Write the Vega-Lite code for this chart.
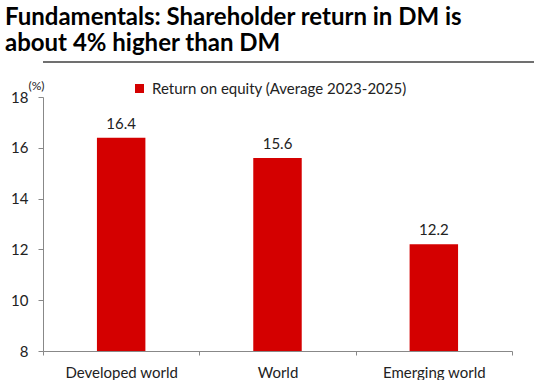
{
  "$schema": "https://vega.github.io/schema/vega-lite/v6.json",
  "background": "white",
  "padding": {"left": 0, "top": 6, "right": 0, "bottom": 0},
  "title": {
    "text": ["Fundamentals: Shareholder return in DM is", "about 4% higher than DM"],
    "anchor": "start",
    "font": "Lato",
    "fontSize": 24,
    "fontWeight": "bold",
    "color": "#000000",
    "lineHeight": 26,
    "offset": 5,
    "dx": 5
  },
  "spacing": 16,
  "resolve": {"legend": {"color": "independent"}, "scale": {"color": "independent"}},
  "config": {"view": {"stroke": null}, "font": "Lato"},
  "vconcat": [
    {
      "width": 520,
      "height": 1,
      "data": {"values": [{"v": 0}]},
      "mark": {"type": "rule", "color": "#404040", "strokeWidth": 1.5},
      "encoding": {
        "y": {"field": "v", "type": "quantitative", "axis": null, "scale": {"domain": [0, 1]}}
      }
    },
    {
      "width": 469,
      "height": 254,
      "data": {
        "values": [
          {"region": "Developed world", "roe": 16.4, "measure": "Return on equity (Average 2023-2025)"},
          {"region": "World", "roe": 15.6, "measure": "Return on equity (Average 2023-2025)"},
          {"region": "Emerging world", "roe": 12.2, "measure": "Return on equity (Average 2023-2025)"}
        ]
      },
      "encoding": {
        "x": {
          "field": "region",
          "type": "nominal",
          "sort": null,
          "scale": {"paddingInner": 0, "paddingOuter": 0},
          "axis": {
            "title": null,
            "labelAngle": 0,
            "labelFontSize": 15,
            "labelColor": "#222222",
            "labelPadding": 10,
            "tickBand": "extent",
            "tickSize": 4,
            "domainColor": "#888888",
            "tickColor": "#888888"
          }
        },
        "y": {
          "field": "roe",
          "type": "quantitative",
          "scale": {"domain": [8, 18]},
          "axis": {
            "values": [8, 10, 12, 14, 16, 18],
            "grid": false,
            "domainColor": "#888888",
            "tickColor": "#888888",
            "tickSize": 5,
            "labelFontSize": 15,
            "labelColor": "#222222",
            "labelPadding": 10,
            "minExtent": 43,
            "title": "(%)",
            "titleAngle": 0,
            "titleFontSize": 12,
            "titleFontWeight": "normal",
            "titleColor": "#222222",
            "titleAlign": "left",
            "titleBaseline": "bottom",
            "titleX": -15,
            "titleY": -5
          }
        }
      },
      "layer": [
        {
          "mark": {"type": "bar", "width": {"band": 0.31}, "clip": true},
          "encoding": {
            "color": {
              "field": "measure",
              "type": "nominal",
              "scale": {"range": ["#D40000"]},
              "legend": {
                "title": null,
                "orient": "none",
                "legendX": 89,
                "legendY": -16,
                "direction": "horizontal",
                "symbolType": "square",
                "symbolSize": 81,
                "symbolStrokeWidth": 0,
                "labelFontSize": 15,
                "labelOffset": 5,
                "labelLimit": 400,
                "labelColor": "#222222"
              }
            }
          }
        },
        {
          "mark": {"type": "text", "baseline": "bottom", "dy": -6, "fontSize": 15, "color": "#222222"},
          "encoding": {"text": {"field": "roe", "type": "quantitative", "format": ".1f"}}
        }
      ]
    }
  ]
}
